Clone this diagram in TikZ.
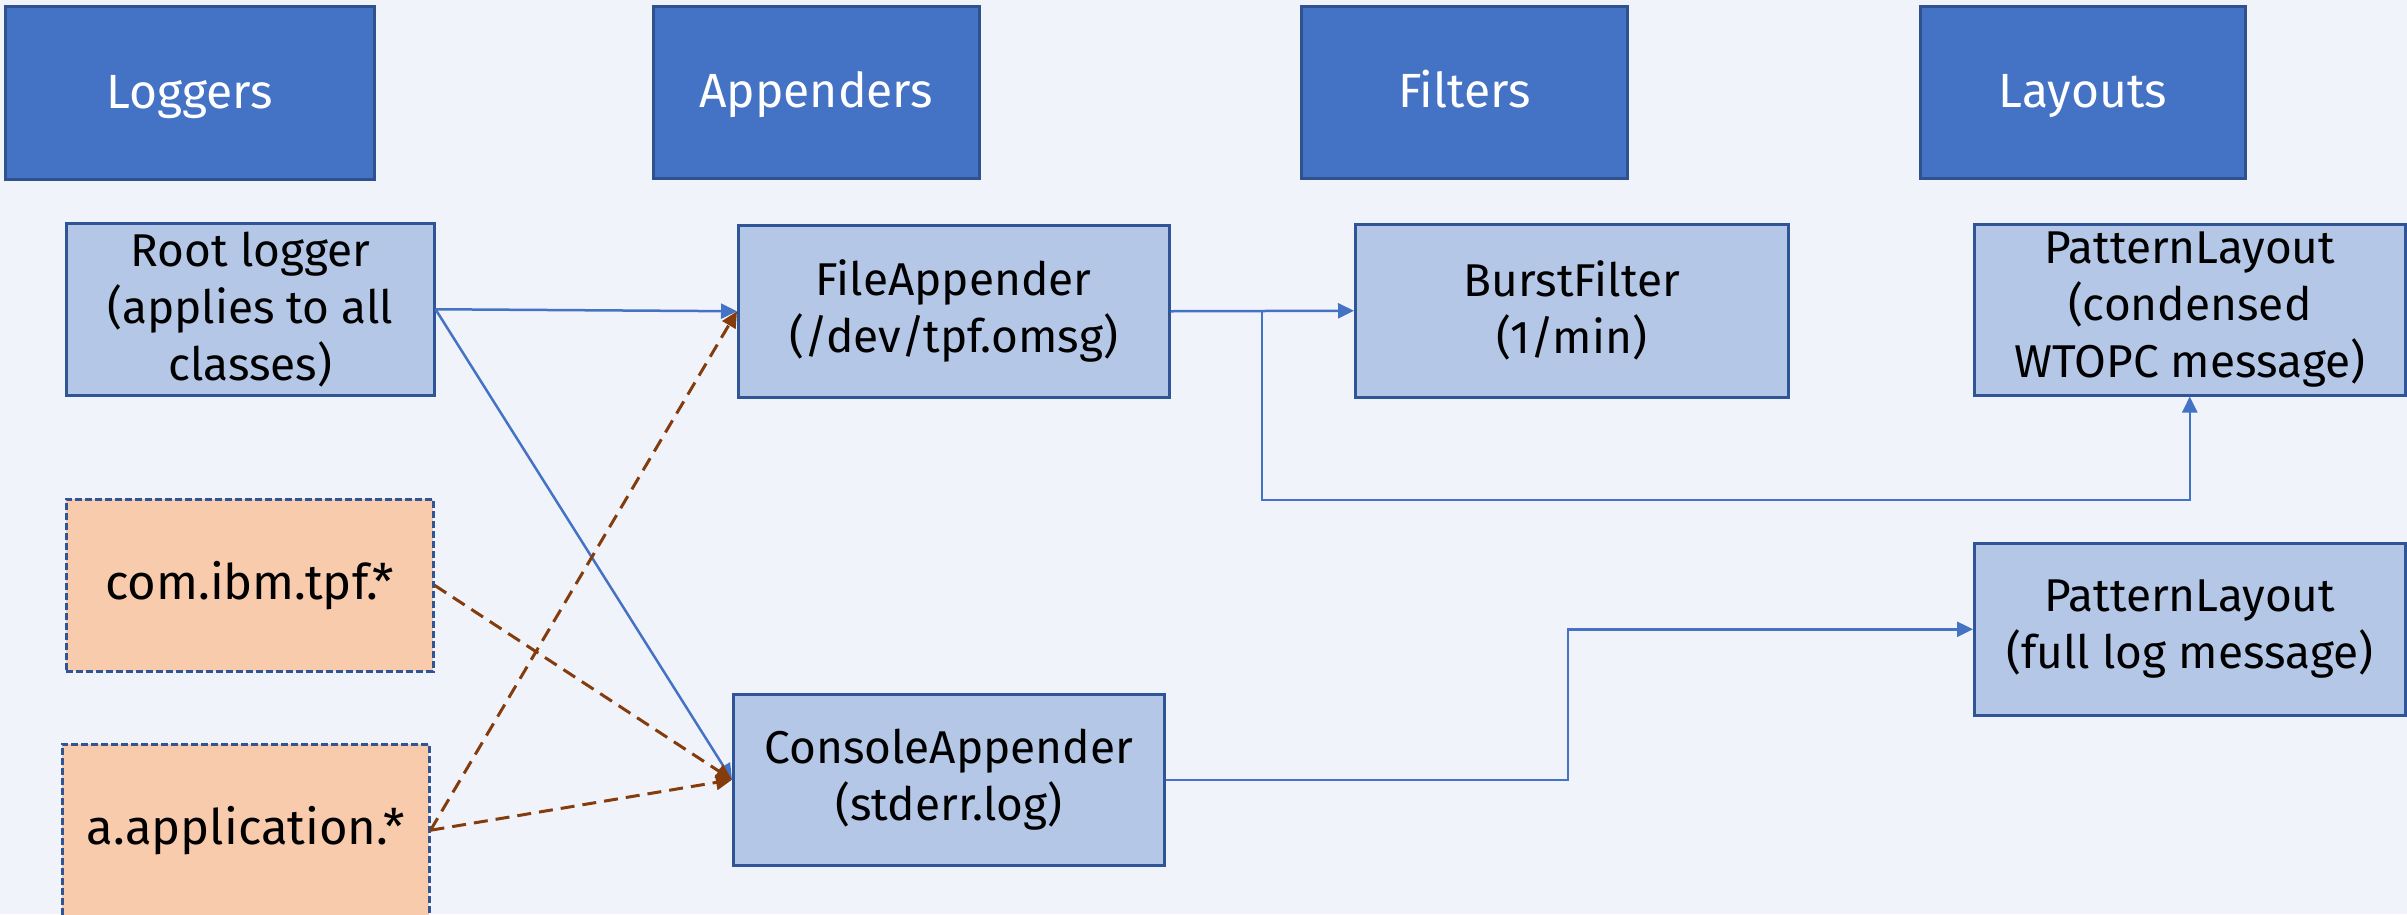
\documentclass[tikz,border=0pt]{standalone}
\usepackage{fontspec}
\setmainfont{Fira Sans}
\usetikzlibrary{arrows.meta,calc}
\definecolor{pagebg}{HTML}{F0F4FA}
\definecolor{headfill}{HTML}{4472C4}
\definecolor{headline}{HTML}{2F528F}
\definecolor{boxfill}{HTML}{B4C7E7}
\definecolor{boxline}{HTML}{2F5597}
\definecolor{srcfill}{HTML}{F8CBAD}
\definecolor{linkblue}{HTML}{4472C4}
\definecolor{linkbrown}{HTML}{843C0C}
\tikzset{
  base/.style={anchor=north west, align=center, inner sep=0pt, line width=2.5pt,
    font=\fontsize{46}{57}\selectfont},
  header/.style={base, fill=headfill, draw=headline, text=white,
    font=\fontsize{48}{58}\selectfont, text height=38pt, text depth=7pt},
  compbox/.style={base, fill=boxfill, draw=boxline, text=black},
  srcbox/.style={base, fill=srcfill, draw=boxline, dash pattern=on 7pt off 3pt, text=black,
    font=\fontsize{49}{58}\selectfont},
  conn/.style={draw=linkblue, line width=2.5pt, -{Triangle[length=16pt,width=15pt]}},
  ref/.style={draw=linkbrown, line width=3pt, dash pattern=on 14pt off 8pt,
    -{Triangle[length=16pt,width=15pt]}},
}
\begin{document}
\begin{tikzpicture}[x=1pt,y=-1pt]
\useasboundingbox (0,0) rectangle (2407,914);
\fill[pagebg] (0,0) rectangle (2407,914);

% column headings
\node[header, minimum width=369pt, minimum height=173pt] (hlog) at (4,5) {Loggers};
\node[header, minimum width=326pt, minimum height=172pt] (happ) at (652,5) {Appenders};
\node[header, minimum width=326pt, minimum height=172pt] (hfil) at (1300,5) {Filters};
\node[header, minimum width=325pt, minimum height=172pt] (hlay) at (1919,5) {Layouts};

% loggers
\node[compbox, minimum width=368pt, minimum height=172pt] (root) at (65,222)
  {Root logger\\(applies to all\\classes)};
\node[srcbox, minimum width=367pt, minimum height=172pt] (tpf) at (65,498) {com.ibm.tpf.*};
\node[srcbox, minimum width=367pt, minimum height=172pt] (app) at (61,743) {a.application.*};

% appenders
\node[compbox, minimum width=431pt, minimum height=172pt] (fa) at (737,224)
  {FileAppender\\(/dev/tpf.omsg)};
\node[compbox, minimum width=431pt, minimum height=171pt] (ca) at (732,693)
  {ConsoleAppender\\(stderr.log)};

% filters
\node[compbox, minimum width=433pt, minimum height=173pt] (bf) at (1354,223)
  {BurstFilter\\(1/min)};

% layouts
\node[compbox, minimum width=431pt, minimum height=171pt] (plt) at (1973,223)
  {PatternLayout\\(condensed\\WTOPC message)};
\node[compbox, minimum width=431pt, minimum height=172pt] (plb) at (1973,542)
  {PatternLayout\\(full log message)};

% routing points
\coordinate (fork) at (1262,310);
\coordinate (forkdown) at (1262,500);
\coordinate (ccol) at (1568,0);

% connectors
\draw[conn] (root.east) -- (fa.west);
\draw[conn] (root.east) -- (ca.west);
\draw[conn] (fa.east) -- (bf.west);
\draw[conn] (fork) -- (forkdown) -| (plt.south);
\draw[conn] (ca.east) -- (ca.east -| ccol) |- (plb.west);
\draw[ref] (tpf.east) -- (ca.west);
\draw[ref] (app.east) -- (ca.west);
\draw[ref] (app.east) -- (fa.west);
\end{tikzpicture}
\end{document}
